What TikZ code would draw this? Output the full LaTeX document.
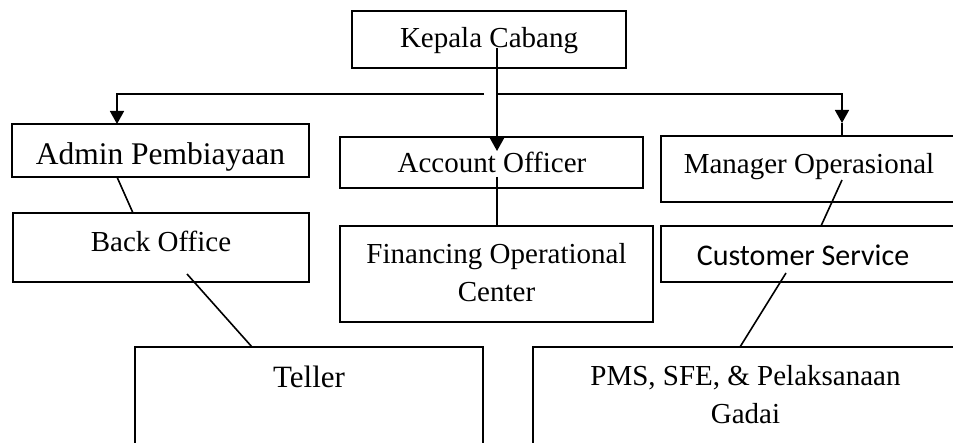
\documentclass[tikz,border=0pt]{standalone}
\usepackage{fontspec}
\setmainfont{Liberation Serif}
\newfontfamily\csfont{Carlito}
\usetikzlibrary{arrows.meta}
\begin{document}
\begin{tikzpicture}[x=1pt,y=-1pt,
  box/.style={draw, line width=1.5pt, rectangle, inner sep=0pt, outer sep=0pt},
  lbl/.style={anchor=base, inner sep=0pt, font=\fontsize{29pt}{38pt}\selectfont},
  conn/.style={line width=1.6pt},
  arr/.style={conn, -{Triangle[length=13pt,width=14pt]}}]
\useasboundingbox (0,0) rectangle (953,443);
\clip (0,0) rectangle (953,443);
% boxes
\node[box, minimum width=274pt, minimum height=57pt] (kc) at (489,39.5) {};
\node[box, minimum width=297pt, minimum height=53pt] (ap) at (160.5,150.5) {};
\node[box, minimum width=303pt, minimum height=51pt] (ao) at (491.5,162.5) {};
\node[box, minimum width=297pt, minimum height=66pt] (mo) at (809.5,169) {};
\node[box, minimum width=296pt, minimum height=69pt] (bo) at (161,247.5) {};
\node[box, minimum width=313pt, minimum height=96pt] (foc) at (496.5,274) {};
\node[box, minimum width=297pt, minimum height=56pt] (cs) at (809.5,254) {};
\node[box, minimum width=348pt, minimum height=123pt] (te) at (309,408.5) {};
\node[box, minimum width=425pt, minimum height=123pt] (pm) at (745.5,408.5) {};
% texts
\node[lbl] (kct) at (489,48) {Kepala Cabang};
\node[lbl, font=\fontsize{31.5pt}{38pt}\selectfont] (apt) at (160.5,165) {Admin Pembiayaan};
\node[lbl] (aot) at (492,173) {Account Officer};
\node[lbl] (mot) at (809,174) {Manager Operasional};
\node[lbl] (bot) at (161,252) {Back Office};
\node[lbl] (foct1) at (496.5,264) {Financing Operational};
\node[lbl] (foct2) at (496.5,302) {Center};
\node[lbl, font=\csfont\fontsize{30pt}{38pt}\selectfont] (cst) at (803,266) {Customer Service};
\node[lbl, font=\fontsize{31pt}{38pt}\selectfont] (tet) at (309,388) {Teller};
\node[lbl] (pmt1) at (745.5,385) {PMS, SFE, \& Pelaksanaan};
\node[lbl] (pmt2) at (745.5,423) {Gadai};
% connector points
\coordinate (kcs) at (497,48);
\coordinate (aotip) at (497,151);
\coordinate (hl) at (484,94);
\coordinate (hr) at (498,94);
\coordinate (aptip) at (117,124);
\coordinate (motip) at (842,123);
\coordinate (mot0) at (842,136);
\coordinate (apb) at (117,177);
\coordinate (bot0) at (133,213);
\coordinate (aob) at (497,177);
\coordinate (foc0) at (497,226);
\coordinate (mob) at (842,180);
\coordinate (cs0) at (821,226);
\coordinate (bob) at (187,274);
\coordinate (te0) at (252,347);
\coordinate (csb) at (786,273);
\coordinate (pm0) at (740,347);
% connectors
\draw[arr] (kcs) -- (aotip);
\draw[arr] (hl) -| (aptip);
\draw[arr] (hr) -| (motip);
\draw[conn] (motip) -- (mot0);
\draw[conn] (apb) -- (bot0);
\draw[conn] (aob) -- (foc0);
\draw[conn] (mob) -- (cs0);
\draw[conn] (bob) -- (te0);
\draw[conn] (csb) -- (pm0);
\end{tikzpicture}
\end{document}
